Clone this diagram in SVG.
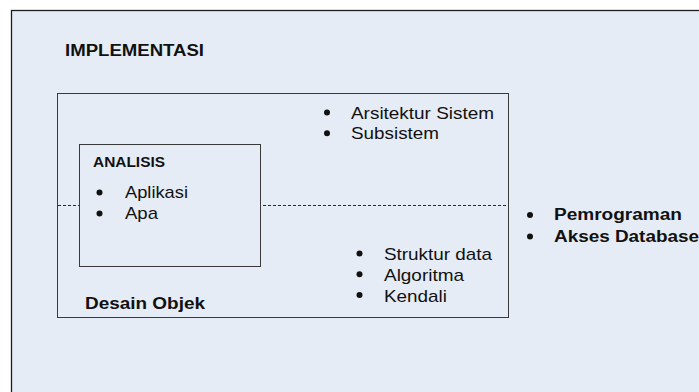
<svg xmlns="http://www.w3.org/2000/svg" width="699" height="392" viewBox="0 0 699 392">
  <style>
    .box { fill: #e6ecf6; stroke: #3a3a3a; stroke-width: 1; }
    .outer { fill: #e6ecf6; stroke: #1e1e1e; stroke-width: 1.3; }
    .sep { fill: none; stroke: #2a2a2a; stroke-width: 1.2; stroke-dasharray: 3 2; }
    .t { font-family: "Liberation Sans", Arial, sans-serif; fill: #111; }
    .b { font-weight: bold; }
    .dot { fill: #111; }
  </style>
  <rect width="699" height="392" fill="#ffffff"/>

  <g id="implementasi">
    <rect class="outer" x="11.5" y="10.5" width="700" height="400"/>
    <text class="t b" x="65" y="56" font-size="16" textLength="139" lengthAdjust="spacingAndGlyphs">IMPLEMENTASI</text>
    <circle class="dot" cx="530" cy="215" r="3"/>
    <text class="t b" x="554" y="220" font-size="16" textLength="128" lengthAdjust="spacingAndGlyphs">Pemrograman</text>
    <circle class="dot" cx="530" cy="236.5" r="3"/>
    <text class="t b" x="554" y="241.5" font-size="16" textLength="145" lengthAdjust="spacingAndGlyphs">Akses Database</text>
  </g>

  <g id="desain-objek">
    <rect class="box" x="57.5" y="93.5" width="451" height="224"/>
    <circle class="dot" cx="327" cy="112.5" r="3"/>
    <text class="t" x="351" y="118.5" font-size="17" textLength="143" lengthAdjust="spacingAndGlyphs">Arsitektur Sistem</text>
    <circle class="dot" cx="327" cy="133.3" r="3"/>
    <text class="t" x="351" y="139" font-size="17" textLength="88" lengthAdjust="spacingAndGlyphs">Subsistem</text>
    <circle class="dot" cx="359.5" cy="253.5" r="3"/>
    <text class="t" x="384" y="260" font-size="17" textLength="108" lengthAdjust="spacingAndGlyphs">Struktur data</text>
    <circle class="dot" cx="359.5" cy="274.3" r="3"/>
    <text class="t" x="384" y="281" font-size="17" textLength="80" lengthAdjust="spacingAndGlyphs">Algoritma</text>
    <circle class="dot" cx="359.5" cy="295" r="3"/>
    <text class="t" x="384" y="302" font-size="17" textLength="63" lengthAdjust="spacingAndGlyphs">Kendali</text>
    <text class="t b" x="85" y="308.5" font-size="16" textLength="120" lengthAdjust="spacingAndGlyphs">Desain Objek</text>
  </g>

  <g id="connectors">
    <line class="sep" x1="58" y1="205.5" x2="508" y2="205.5"/>
  </g>

  <g id="analisis">
    <rect class="box" x="79.5" y="144.5" width="181" height="122"/>
    <text class="t b" x="93" y="166.5" font-size="14" textLength="72" lengthAdjust="spacingAndGlyphs">ANALISIS</text>
    <circle class="dot" cx="99.5" cy="192.5" r="3"/>
    <text class="t" x="125" y="197.5" font-size="17" textLength="63" lengthAdjust="spacingAndGlyphs">Aplikasi</text>
    <circle class="dot" cx="99.5" cy="213.5" r="3"/>
    <text class="t" x="125" y="218.5" font-size="17" textLength="33" lengthAdjust="spacingAndGlyphs">Apa</text>
  </g>
</svg>
